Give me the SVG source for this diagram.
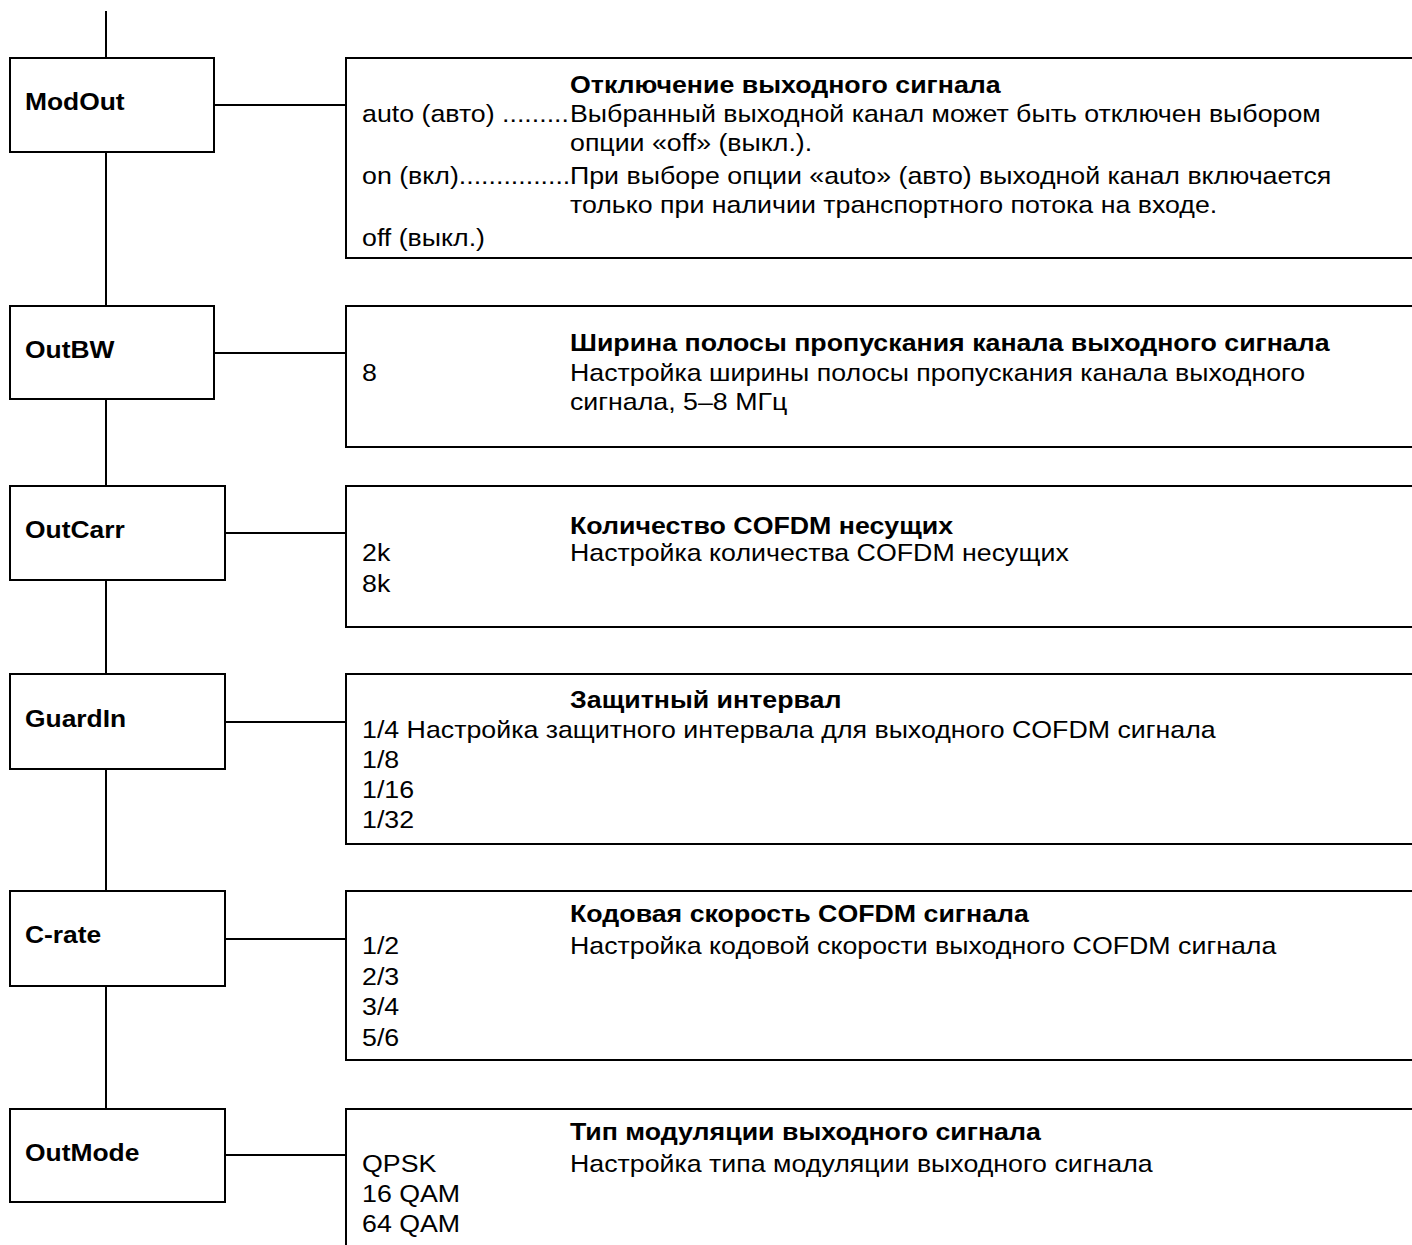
<svg xmlns="http://www.w3.org/2000/svg" width="1412" height="1245" viewBox="0 0 1412 1245">
<style>
.box{fill:#fff;stroke:#000;stroke-width:2}
.ln{stroke:#000;stroke-width:2;fill:none}
.lbl{font-family:"Liberation Sans",Arial,sans-serif;font-size:24px;font-weight:bold;fill:#000}
.hd{font-family:"Liberation Sans",Arial,sans-serif;font-size:24px;font-weight:bold;fill:#000}
.tx{font-family:"Liberation Sans",Arial,sans-serif;font-size:24px;fill:#000}
</style>
<rect width="1412" height="1245" fill="#fff"/>
<g id="connectors">
<path class="ln" d="M106 11V58M106 152V306M106 399V486M106 580V674M106 769V891M106 986V1109"/>
<path class="ln" d="M214 105H346M214 353H346M225 533H346M225 722H346M225 939H346M225 1155H346"/>
</g>
<g id="modout">
<rect class="box" x="10" y="58" width="204" height="94"/>
<text class="lbl" transform="translate(25 110) scale(1.1 1)">ModOut</text>
</g>
<g id="modout-info">
<rect class="box" x="346" y="58" width="1080" height="200"/>
<text class="hd" transform="translate(570 93) scale(1.115 1)">Отключение выходного сигнала</text>
<text class="tx" transform="translate(362 122) scale(1.115 1)">auto (авто) .........</text>
<text class="tx" transform="translate(570 122) scale(1.115 1)">Выбранный выходной канал может быть отключен выбором</text>
<text class="tx" transform="translate(570 151) scale(1.115 1)">опции «off» (выкл.).</text>
<text class="tx" transform="translate(362 184) scale(1.115 1)">on (вкл)...............</text>
<text class="tx" transform="translate(570 184) scale(1.115 1)">При выборе опции «auto» (авто) выходной канал включается</text>
<text class="tx" transform="translate(570 213) scale(1.115 1)">только при наличии транспортного потока на входе.</text>
<text class="tx" transform="translate(362 246) scale(1.115 1)">off (выкл.)</text>
</g>
<g id="outbw">
<rect class="box" x="10" y="306" width="204" height="93"/>
<text class="lbl" transform="translate(25 358) scale(1.1 1)">OutBW</text>
</g>
<g id="outbw-info">
<rect class="box" x="346" y="306" width="1080" height="141"/>
<text class="hd" transform="translate(570 351) scale(1.115 1)">Ширина полосы пропускания канала выходного сигнала</text>
<text class="tx" transform="translate(362 381) scale(1.115 1)">8</text>
<text class="tx" transform="translate(570 381) scale(1.115 1)">Настройка ширины полосы пропускания канала выходного</text>
<text class="tx" transform="translate(570 410) scale(1.115 1)">сигнала, 5–8 МГц</text>
</g>
<g id="outcarr">
<rect class="box" x="10" y="486" width="215" height="94"/>
<text class="lbl" transform="translate(25 538) scale(1.1 1)">OutCarr</text>
</g>
<g id="outcarr-info">
<rect class="box" x="346" y="486" width="1080" height="141"/>
<text class="hd" transform="translate(570 534) scale(1.115 1)">Количество COFDM несущих</text>
<text class="tx" transform="translate(362 561) scale(1.115 1)">2k</text>
<text class="tx" transform="translate(570 561) scale(1.115 1)">Настройка количества COFDM несущих</text>
<text class="tx" transform="translate(362 592) scale(1.115 1)">8k</text>
</g>
<g id="guardin">
<rect class="box" x="10" y="674" width="215" height="95"/>
<text class="lbl" transform="translate(25 727) scale(1.1 1)">GuardIn</text>
</g>
<g id="guardin-info">
<rect class="box" x="346" y="674" width="1080" height="170"/>
<text class="hd" transform="translate(570 708) scale(1.115 1)">Защитный интервал</text>
<text class="tx" transform="translate(362 738) scale(1.115 1)">1/4 Настройка защитного интервала для выходного COFDM сигнала</text>
<text class="tx" transform="translate(362 768) scale(1.115 1)">1/8</text>
<text class="tx" transform="translate(362 798) scale(1.115 1)">1/16</text>
<text class="tx" transform="translate(362 828) scale(1.115 1)">1/32</text>
</g>
<g id="crate">
<rect class="box" x="10" y="891" width="215" height="95"/>
<text class="lbl" transform="translate(25 943) scale(1.1 1)">C-rate</text>
</g>
<g id="crate-info">
<rect class="box" x="346" y="891" width="1080" height="169"/>
<text class="hd" transform="translate(570 922) scale(1.115 1)">Кодовая скорость COFDM сигнала</text>
<text class="tx" transform="translate(362 954) scale(1.115 1)">1/2</text>
<text class="tx" transform="translate(570 954) scale(1.115 1)">Настройка кодовой скорости выходного COFDM сигнала</text>
<text class="tx" transform="translate(362 985) scale(1.115 1)">2/3</text>
<text class="tx" transform="translate(362 1015) scale(1.115 1)">3/4</text>
<text class="tx" transform="translate(362 1046) scale(1.115 1)">5/6</text>
</g>
<g id="outmode">
<rect class="box" x="10" y="1109" width="215" height="93"/>
<text class="lbl" transform="translate(25 1161) scale(1.1 1)">OutMode</text>
</g>
<g id="outmode-info">
<rect class="box" x="346" y="1109" width="1080" height="160"/>
<text class="hd" transform="translate(570 1140) scale(1.115 1)">Тип модуляции выходного сигнала</text>
<text class="tx" transform="translate(362 1172) scale(1.115 1)">QPSK</text>
<text class="tx" transform="translate(570 1172) scale(1.115 1)">Настройка типа модуляции выходного сигнала</text>
<text class="tx" transform="translate(362 1202) scale(1.115 1)">16 QAM</text>
<text class="tx" transform="translate(362 1232) scale(1.115 1)">64 QAM</text>
</g>
</svg>
